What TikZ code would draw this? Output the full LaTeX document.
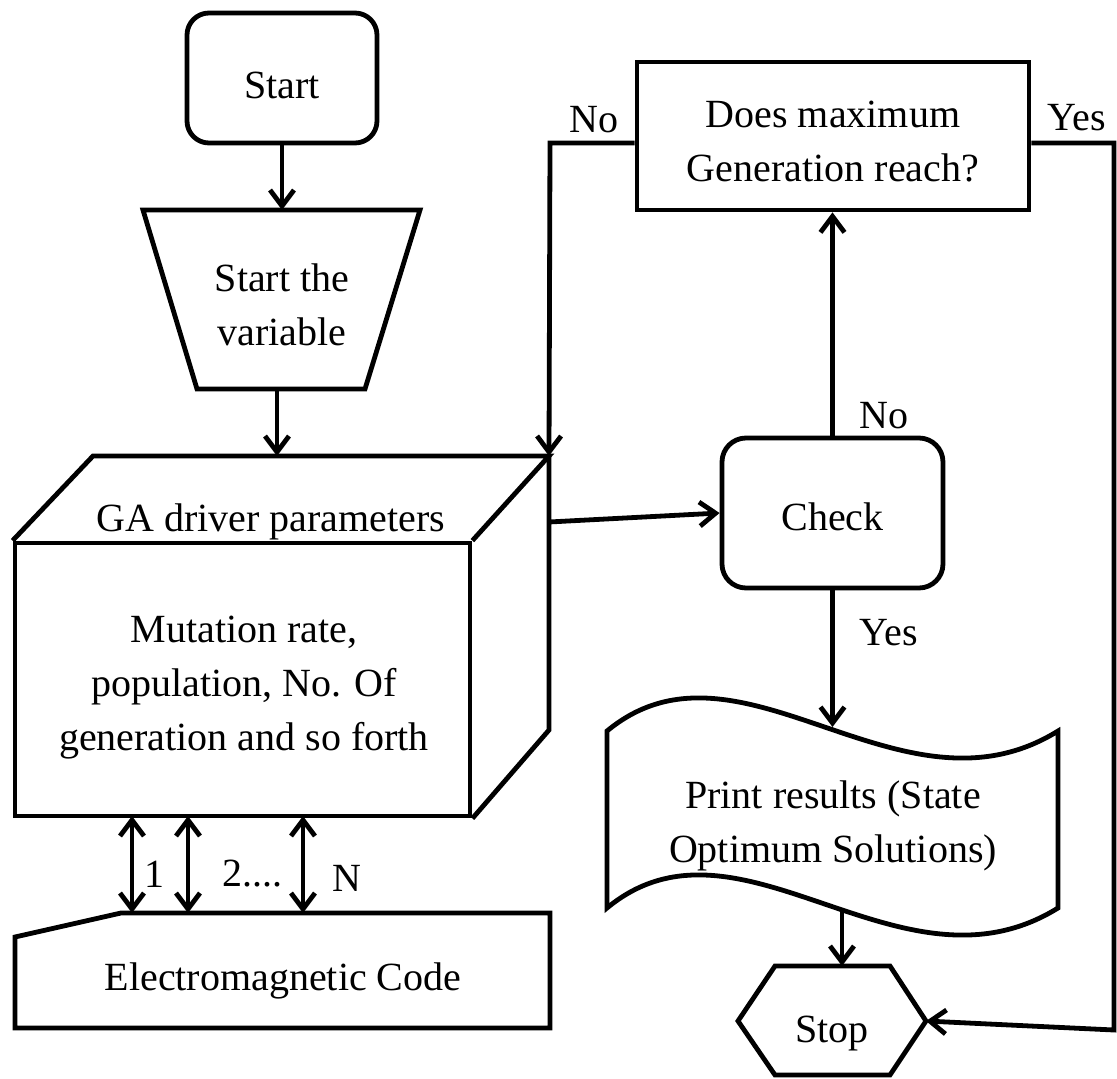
\documentclass[tikz,border=0pt]{standalone}
\usepackage{fontspec}
\setmainfont{Liberation Serif}
\usetikzlibrary{arrows.meta}
\begin{document}
\begin{tikzpicture}[x=1pt,y=-1pt,
  line width=4.8pt, line join=miter,
  arr/.style={-{Straight Barb[length=16pt,width=24pt]}},
  darr/.style={{Straight Barb[length=16pt,width=24pt]}-{Straight Barb[length=16pt,width=24pt]}},
  txt/.style={font=\fontsize{40}{54}\selectfont, align=center, inner sep=0pt},
  lbl/.style={font=\fontsize{40}{54}\selectfont, inner sep=0pt, anchor=base},
  box/.style={draw, line width=4.8pt, inner sep=0pt},
]
\useasboundingbox (0,0) rectangle (1117,1079);

% Start
\node[box, rounded corners=22pt, minimum width=190pt, minimum height=130pt,
      txt, text height=40pt, text depth=0pt] (start) at (282,78) {Start};

% Trapezoid "Start the variable"
\coordinate (vtl) at (143,210);
\coordinate (vtr) at (420,210);
\coordinate (vbr) at (365,389);
\coordinate (vbl) at (197,389);
\draw (vtl) -- (vtr) -- (vbr) -- (vbl) -- cycle;
\coordinate (vartop) at (282,210);
\coordinate (varbot) at (277,389);
\node[txt] (var) at (282,305) {Start the\\variable};

% GA driver cuboid
\node[box, minimum width=455pt, minimum height=273pt] (ga) at (242.5,679.5) {};
\coordinate (gatl) at (93,456);
\coordinate (gatr) at (549,456);
\coordinate (gabr) at (549,730);
\draw (ga.north west) -- (gatl) -- (gatr) -- (ga.north east);
\draw (gatr) -- (gabr) -- (ga.south east);
\coordinate (gatop) at (277,456);
\coordinate (garight) at (549,522);
\node[txt] (gatxt) at (271,522) {GA driver parameters};
\node[txt] (gabody) at (244,688) {Mutation rate,\\population, No. Of\\generation and so forth};

% Electromagnetic code
\coordinate (e1) at (121,913);
\coordinate (e2) at (550,913);
\coordinate (e3) at (550,1028);
\coordinate (e4) at (15,1028);
\coordinate (e5) at (15,937);
\draw (e1) -- (e2) -- (e3) -- (e4) -- (e5) -- cycle;
\node[txt] (em) at (283,981) {Electromagnetic Code};

% double arrows
\coordinate (d1t) at (132,816); \coordinate (d1b) at (132,913);
\coordinate (d2t) at (188,816); \coordinate (d2b) at (188,913);
\coordinate (d3t) at (303,816); \coordinate (d3b) at (303,913);
\draw[darr] (d1t) -- (d1b);
\draw[darr] (d2t) -- (d2b);
\draw[darr] (d3t) -- (d3b);
\node[lbl] (l1) at (154,887) {1};
\node[lbl] (l2) at (252,886) {2....};
\node[lbl] (lN) at (347,891) {N};

% Does maximum
\node[box, minimum width=392pt, minimum height=148pt] (dm) at (833,136) {};
\node[txt] (dmtxt) at (833,142) {Does maximum\\Generation reach?};

% Check
\node[box, rounded corners=24pt, minimum width=221pt, minimum height=150pt,
      txt, text height=34pt, text depth=0pt] (check) at (832.5,513) {Check};

% Print results
\draw (607,731) .. controls (740,621) and (900,829) .. (1058,731)
      -- (1058,908) .. controls (900,1006) and (740,798) .. (607,908) -- cycle;
\coordinate (ptop) at (832.5,727);
\coordinate (pbot) at (842,911);
\node[txt] (print) at (833,826) {Print results (State\\Optimum Solutions)};

% Stop hexagon
\coordinate (s1) at (775,966);
\coordinate (s2) at (890,966);
\coordinate (stopE) at (926,1021);
\coordinate (s4) at (890,1075);
\coordinate (s5) at (775,1075);
\coordinate (s6) at (738,1021);
\draw (s1) -- (s2) -- (stopE) -- (s4) -- (s5) -- (s6) -- cycle;
\coordinate (stoptop) at (842,966);
\node[txt] (stop) at (832,1034) {Stop};

% connectors
\draw[arr] (start.south) -- (start.south |- vartop);
\draw[arr] (varbot) -- (gatop);
\draw[arr] (garight) -- (check.west);
\draw[arr] (check.north) -- (check.north |- dm.south);
\draw[arr] (check.south) -- (ptop);
\draw[arr] (pbot) -- (stoptop);
\draw[arr] ([yshift=-7pt]dm.west) -- (550,143) -- (gatr);
\draw[arr] ([yshift=-7pt]dm.east) -- (1114,143) -- (1114,1030) -- (stopE);

% labels
\node[lbl] (noL) at (594,132) {No};
\node[lbl] (yesR) at (1077,130) {Yes};
\node[lbl] (noM) at (884,428) {No};
\node[lbl] (yesM) at (889,645) {Yes};
\end{tikzpicture}
\end{document}
